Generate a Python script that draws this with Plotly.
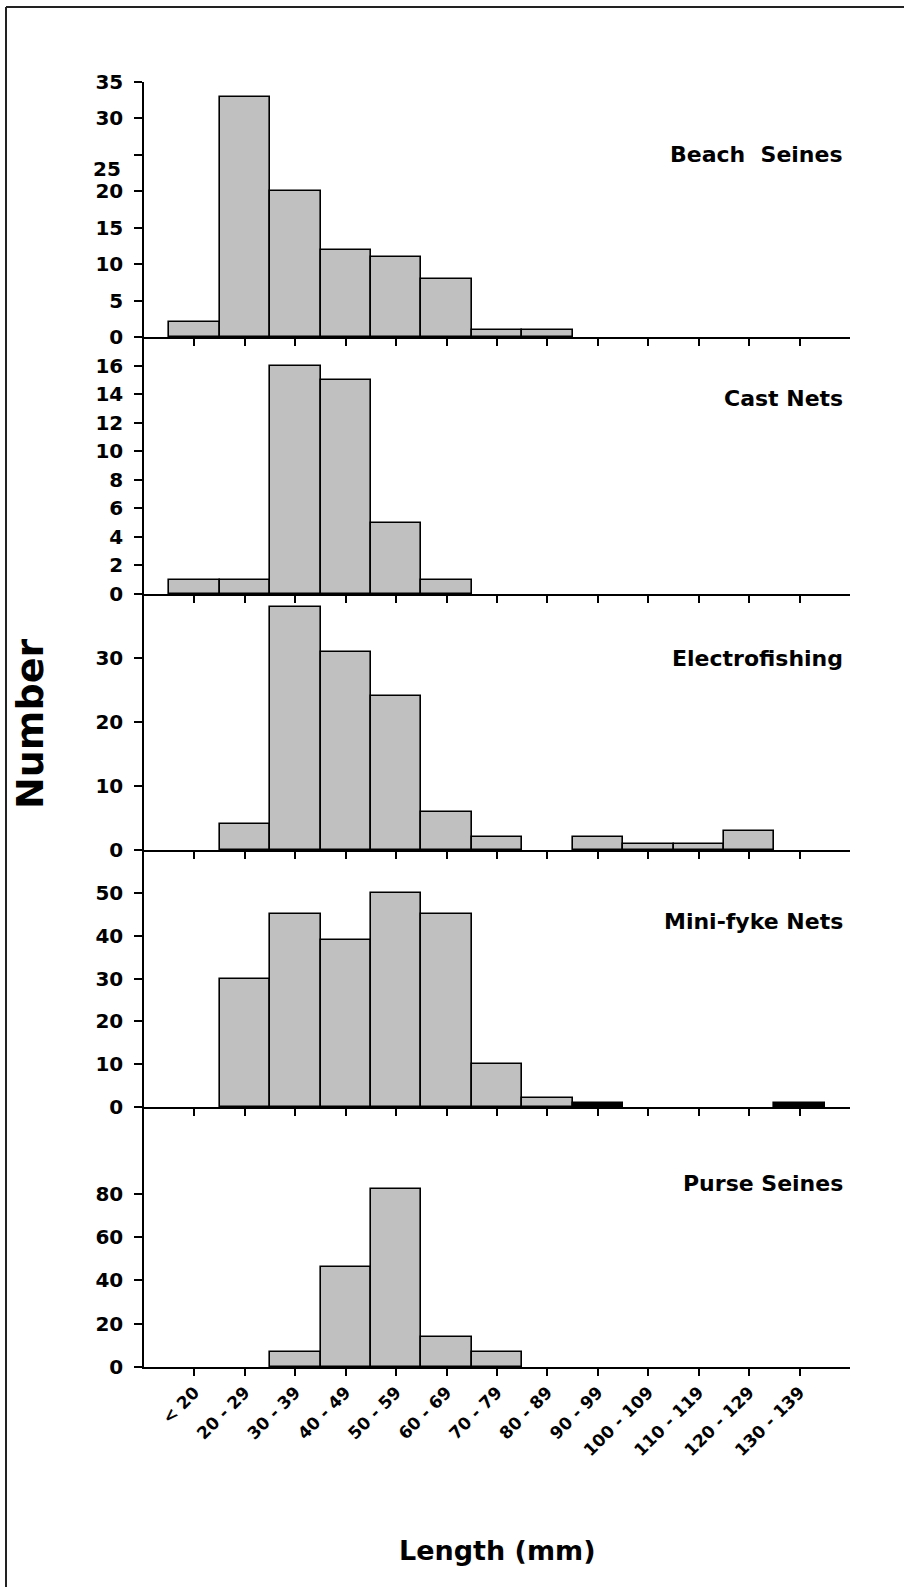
import plotly.graph_objects as go

categories = ["< 20", "20 - 29", "30 - 39", "40 - 49", "50 - 59", "60 - 69", "70 - 79",
              "80 - 89", "90 - 99", "100 - 109", "110 - 119", "120 - 129", "130 - 139"]

beach_seines = [2, 33, 20, 12, 11, 8, 1, 1, 0, 0, 0, 0, 0]
cast_nets = [1, 1, 16, 15, 5, 1, 0, 0, 0, 0, 0, 0, 0]
electrofishing = [0, 4, 38, 31, 24, 6, 2, 0, 2, 1, 1, 3, 0]
mini_fyke_nets = [0, 30, 45, 39, 50, 45, 10, 2, 1, 0, 0, 0, 1]
purse_seines = [0, 0, 7, 46, 82, 14, 7, 0, 0, 0, 0, 0, 0]

panel_names = ["Beach&nbsp;&nbsp;Seines", "Cast Nets", "Electrofishing", "Mini-fyke Nets", "Purse Seines"]
panel_values = [beach_seines, cast_nets, electrofishing, mini_fyke_nets, purse_seines]
y_ranges = [[0, 35], [0, 18], [0, 40], [0, 60], [0, 120]]
y_tickvals = [[0, 5, 10, 15, 20, 25, 30, 35], list(range(0, 17, 2)), [0, 10, 20, 30],
              [0, 10, 20, 30, 40, 50], [0, 20, 40, 60, 80]]

W, H = 904, 1587
panel_px = [(82, 337), (337, 594), (594, 850), (850, 1107), (1107, 1367)]
label_px = [155, 398, 658, 922, 1183]
x_left, x_right = 144, 850

fig = go.Figure()
num_font = dict(family="DejaVu Sans", size=20, color="black", weight="bold")

for i, (vals, (top, bot)) in enumerate(zip(panel_values, panel_px)):
    n = i + 1
    xa = "x" if n == 1 else f"x{n}"
    ya = "y" if n == 1 else f"y{n}"
    colors = ["#C0C0C0"] * len(vals)
    if i == 3:
        colors = ["black" if v == 1 else "#C0C0C0" for v in vals]
    fig.add_trace(go.Bar(x=categories, y=[v if v else None for v in vals], width=1,
                         xaxis=xa, yaxis=ya,
                         marker=dict(color=colors, line=dict(color="black", width=1.6)),
                         showlegend=False, hoverinfo="skip"))
    xkey = "xaxis" if n == 1 else f"xaxis{n}"
    ykey = "yaxis" if n == 1 else f"yaxis{n}"
    ticktext = [str(v) for v in y_tickvals[i]]
    if i == 0:
        ticktext = ["" if v == 25 else str(v) for v in y_tickvals[i]]
    fig.update_layout({
        xkey: dict(domain=[x_left / W, x_right / W], anchor=ya, type="category",
                   categoryorder="array", categoryarray=categories,
                   range=[-1, 13], showline=True, linecolor="black", linewidth=1.5,
                   ticks="outside", ticklen=7, tickwidth=1.5, tickcolor="black",
                   showgrid=False, zeroline=False, showticklabels=(i == 4),
                   tickangle=-45, automargin=False,
                   tickfont=dict(family="DejaVu Sans", size=17, color="black", weight="bold")),
        ykey: dict(domain=[1 - bot / H, 1 - top / H], anchor=xa, range=y_ranges[i],
                   tickvals=y_tickvals[i], ticktext=ticktext,
                   showline=True, linecolor="black", linewidth=1.5,
                   ticks="outside", ticklen=8, tickwidth=1.5, tickcolor="black",
                   ticklabelstandoff=7, automargin=False,
                   showgrid=False, zeroline=False, tickfont=num_font),
    })
    fig.add_annotation(text=f"<b>{panel_names[i]}</b>", xref="paper", yref="paper",
                       x=845 / W, y=1 - label_px[i] / H, xanchor="right", yanchor="middle",
                       showarrow=False,
                       font=dict(family="DejaVu Sans", size=22, color="black"))

# misplaced "25" label on the top panel
fig.add_annotation(text="25", xref="paper", yref="y", x=123 / W, y=23, xanchor="right",
                   yanchor="middle", showarrow=False, font=num_font)

fig.add_annotation(text="<b>Number</b>", xref="paper", yref="paper", x=30 / W, y=1 - 724 / H,
                   textangle=-90, showarrow=False, xanchor="center", yanchor="middle",
                   font=dict(family="DejaVu Sans", size=38, color="black"))
fig.add_annotation(text="<b>Length (mm)</b>", xref="paper", yref="paper", x=497 / W, y=1 - 1550 / H,
                   showarrow=False, xanchor="center", yanchor="middle",
                   font=dict(family="DejaVu Sans", size=27, color="black"))

# outer frame (left and top edges visible)
fig.add_shape(type="line", xref="paper", yref="paper", x0=6 / W, x1=6 / W, y0=0, y1=1 - 7 / H,
              line=dict(color="#222222", width=2))
fig.add_shape(type="line", xref="paper", yref="paper", x0=6 / W, x1=1, y0=1 - 7 / H, y1=1 - 7 / H,
              line=dict(color="#222222", width=2))

fig.update_layout(width=W, height=H, margin=dict(l=0, r=0, t=0, b=0, autoexpand=False),
                  paper_bgcolor="white", plot_bgcolor="rgba(0,0,0,0)", bargap=0)

fig.write_html("out.html", config={"displayModeBar": False},
               post_script="document.body.style.margin='0';")
